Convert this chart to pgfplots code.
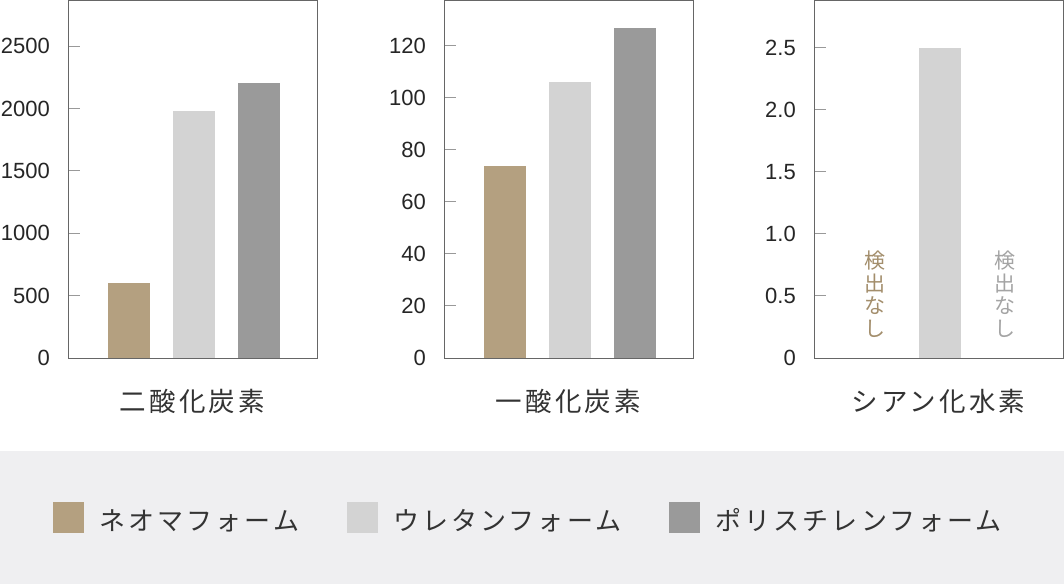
\documentclass[border=0pt]{standalone}
\usepackage{fontspec}
\setmainfont{Liberation Sans}
\newfontfamily\cjk[LetterSpace=12]{Noto Sans CJK JP}
\newfontfamily\cjkv{Noto Sans CJK JP}
\usepackage{pgfplots}
\pgfplotsset{compat=1.18}

\definecolor{neoma}{HTML}{B4A080}
\definecolor{urethane}{HTML}{D3D3D3}
\definecolor{polys}{HTML}{9A9A9A}
\definecolor{band}{HTML}{EFEFF1}
\definecolor{framec}{HTML}{666666}
\definecolor{tickc}{HTML}{999999}
\definecolor{ndneoma}{HTML}{A38E6C}
\definecolor{ndpoly}{HTML}{A4A4A4}

\tikzset{
  catlabel/.style={font=\cjk\fontsize{26.5}{26.5}\selectfont, text=black!80},
  ndlabel/.style={font=\cjkv\fontsize{21}{22.5}\selectfont, align=center, text=#1},
}
\pgfplotsset{
  panel/.style={
    width=249pt, height=357pt, scale only axis,
    anchor=south west,
    xmin=-0.938, xmax=2.892, ymin=0,
    xtick=\empty, ytick pos=left,
    axis line style={framec, line width=1pt},
    ytick style={tickc, line width=1pt},
    tick align=inside, major tick length=12pt,
    yticklabel style={font=\fontsize{22}{22}\selectfont, color=black!85, inner sep=0pt},
    yticklabel shift=18pt,
    /pgf/number format/assume math mode=true,
    /pgf/number format/1000 sep={},
    clip=false,
  },
  mybar/.style={ybar, bar width=42pt, bar shift=0pt, draw=none, fill=#1},
}

\begin{document}
\begin{tikzpicture}
\fill[white] (0,0) rectangle (1064pt,584pt);
\fill[band] (0,0) rectangle (1064pt,133pt);

% carbon dioxide
\begin{axis}[panel, at={(68pt,226pt)},
  ymax=2861, ytick={0,500,1000,1500,2000,2500},
  legend columns=3,
  legend style={at={(axis description cs:0,0)}, anchor=west,
    xshift=-15pt, yshift=-159.5pt,
    draw=none, fill=none, inner sep=0pt,
    font=\cjk\fontsize{26}{26}\selectfont, text=black!80,
    nodes={inner sep=0pt},
    /tikz/every odd column/.append style={column sep=15pt},
    /tikz/every even column/.append style={column sep=48pt}},
  legend image code/.code={\path[#1, draw=none] (0pt,-12.5pt) rectangle (31pt,18.5pt);},
]
\addplot[mybar=neoma] coordinates {(0,600)};
\addplot[mybar=urethane] coordinates {(1,1980)};
\addplot[mybar=polys] coordinates {(2,2200)};
\legend{ネオマフォーム,ウレタンフォーム,ポリスチレンフォーム}
\node[catlabel] at (rel axis cs:0.5,0) [yshift=-43pt] {二酸化炭素};
\end{axis}

% carbon monoxide
\begin{axis}[panel, at={(444pt,226pt)},
  ymax=137.3, ytick={0,20,40,60,80,100,120}]
\addplot[mybar=neoma] coordinates {(0,74)};
\addplot[mybar=urethane] coordinates {(1,106)};
\addplot[mybar=polys] coordinates {(2,127)};
\node[catlabel] at (rel axis cs:0.5,0) [yshift=-43pt] {一酸化炭素};
\end{axis}

% hydrogen cyanide
\begin{axis}[panel, at={(814pt,226pt)},
  ymax=2.879, ytick={0,0.5,1,1.5,2,2.5},
  yticklabels={0,0.5,1.0,1.5,2.0,2.5}]
\addplot[mybar=urethane] coordinates {(1,2.5)};
\node[ndlabel=ndneoma] at (axis cs:0,0.516) {検\\出\\な\\し};
\node[ndlabel=ndpoly] at (axis cs:2,0.516) {検\\出\\な\\し};
\node[catlabel] at (rel axis cs:0.5,0) [yshift=-43pt] {シアン化水素};
\end{axis}
\end{tikzpicture}
\end{document}
